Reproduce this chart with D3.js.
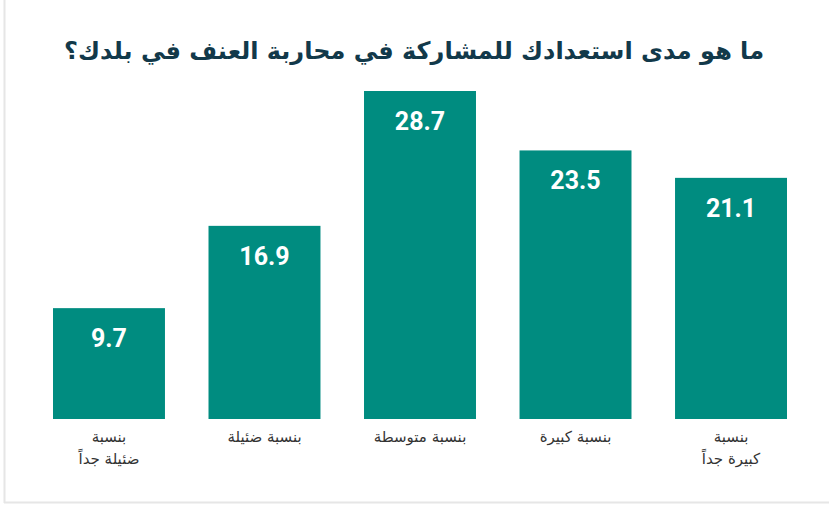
<!DOCTYPE html>
<html>
<head>
<meta charset="utf-8">
<script src="https://cdn.jsdelivr.net/npm/d3@7"></script>
<style>
  body { margin: 0; background: #fff; }
  svg { display: block; }
</style>
</head>
<body>
<div id="chart"></div>
<script>
// chart data
var title = "ما هو مدى استعدادك للمشاركة في محاربة العنف في بلدك؟";
var categories = ["بنسبة\nضئيلة جداً", "بنسبة ضئيلة", "بنسبة متوسطة", "بنسبة كبيرة", "بنسبة\nكبيرة جداً"];
var values = [9.7, 16.9, 28.7, 23.5, 21.1];

var svgWidth = 829;
var svgHeight = 505;
var baseline = 419;

var svg = d3.select("#chart")
  .append("svg")
  .attr("width", svgWidth)
  .attr("height", svgHeight);

// light frame on left and bottom
svg.append("line")
  .attr("x1", 4.5).attr("x2", 4.5)
  .attr("y1", 0).attr("y2", 503)
  .attr("stroke", "#e6e6e6").attr("stroke-width", 2);
svg.append("line")
  .attr("x1", 4).attr("x2", 829)
  .attr("y1", 502.5).attr("y2", 502.5)
  .attr("stroke", "#e6e6e6").attr("stroke-width", 2);

// title
svg.append("text")
  .attr("x", 414)
  .attr("y", 59)
  .attr("text-anchor", "middle")
  .attr("direction", "rtl")
  .style("font-family", "'DejaVu Sans', sans-serif")
  .style("font-weight", "bold")
  .style("font-size", "24px")
  .style("fill", "#12394a")
  .text(title);

// scales
var x = d3.scaleBand()
  .domain(categories)
  .range([53, 787])
  .paddingInner(0.28)
  .paddingOuter(0);

var y = d3.scaleLinear()
  .domain([0, 28.7])
  .range([baseline, 91]);

var data = categories.map(function(c, i) { return { key: c, value: values[i] }; });

// bars
svg.selectAll(".bar")
  .data(data)
  .enter()
  .append("rect")
  .attr("class", "bar")
  .attr("x", function(d) { return x(d.key); })
  .attr("y", function(d) { return y(d.value); })
  .attr("width", x.bandwidth())
  .attr("height", function(d) { return baseline - y(d.value); })
  .attr("fill", "#008c80");

// value labels
svg.selectAll(".val")
  .data(data)
  .enter()
  .append("text")
  .attr("class", "val")
  .attr("x", function(d) { return x(d.key) + x.bandwidth() / 2; })
  .attr("y", function(d) { return y(d.value) + 39; })
  .attr("text-anchor", "middle")
  .style("font-family", "Roboto, sans-serif")
  .style("font-weight", "bold")
  .style("font-size", "25px")
  .style("fill", "#ffffff")
  .text(function(d) { return d.value.toFixed(1); });

// category labels, one tspan per line
svg.selectAll(".cat")
  .data(data)
  .enter()
  .append("text")
  .attr("class", "cat")
  .attr("y", 442)
  .attr("text-anchor", "middle")
  .attr("direction", "rtl")
  .style("font-family", "'DejaVu Sans', sans-serif")
  .style("font-size", "15px")
  .style("fill", "#333333")
  .each(function(d) {
    var el = d3.select(this);
    d.key.split("\n").forEach(function(t, i) {
      el.append("tspan")
        .attr("x", x(d.key) + x.bandwidth() / 2)
        .attr("dy", i === 0 ? 0 : 22)
        .text(t);
    });
  });
</script>
</body>
</html>
